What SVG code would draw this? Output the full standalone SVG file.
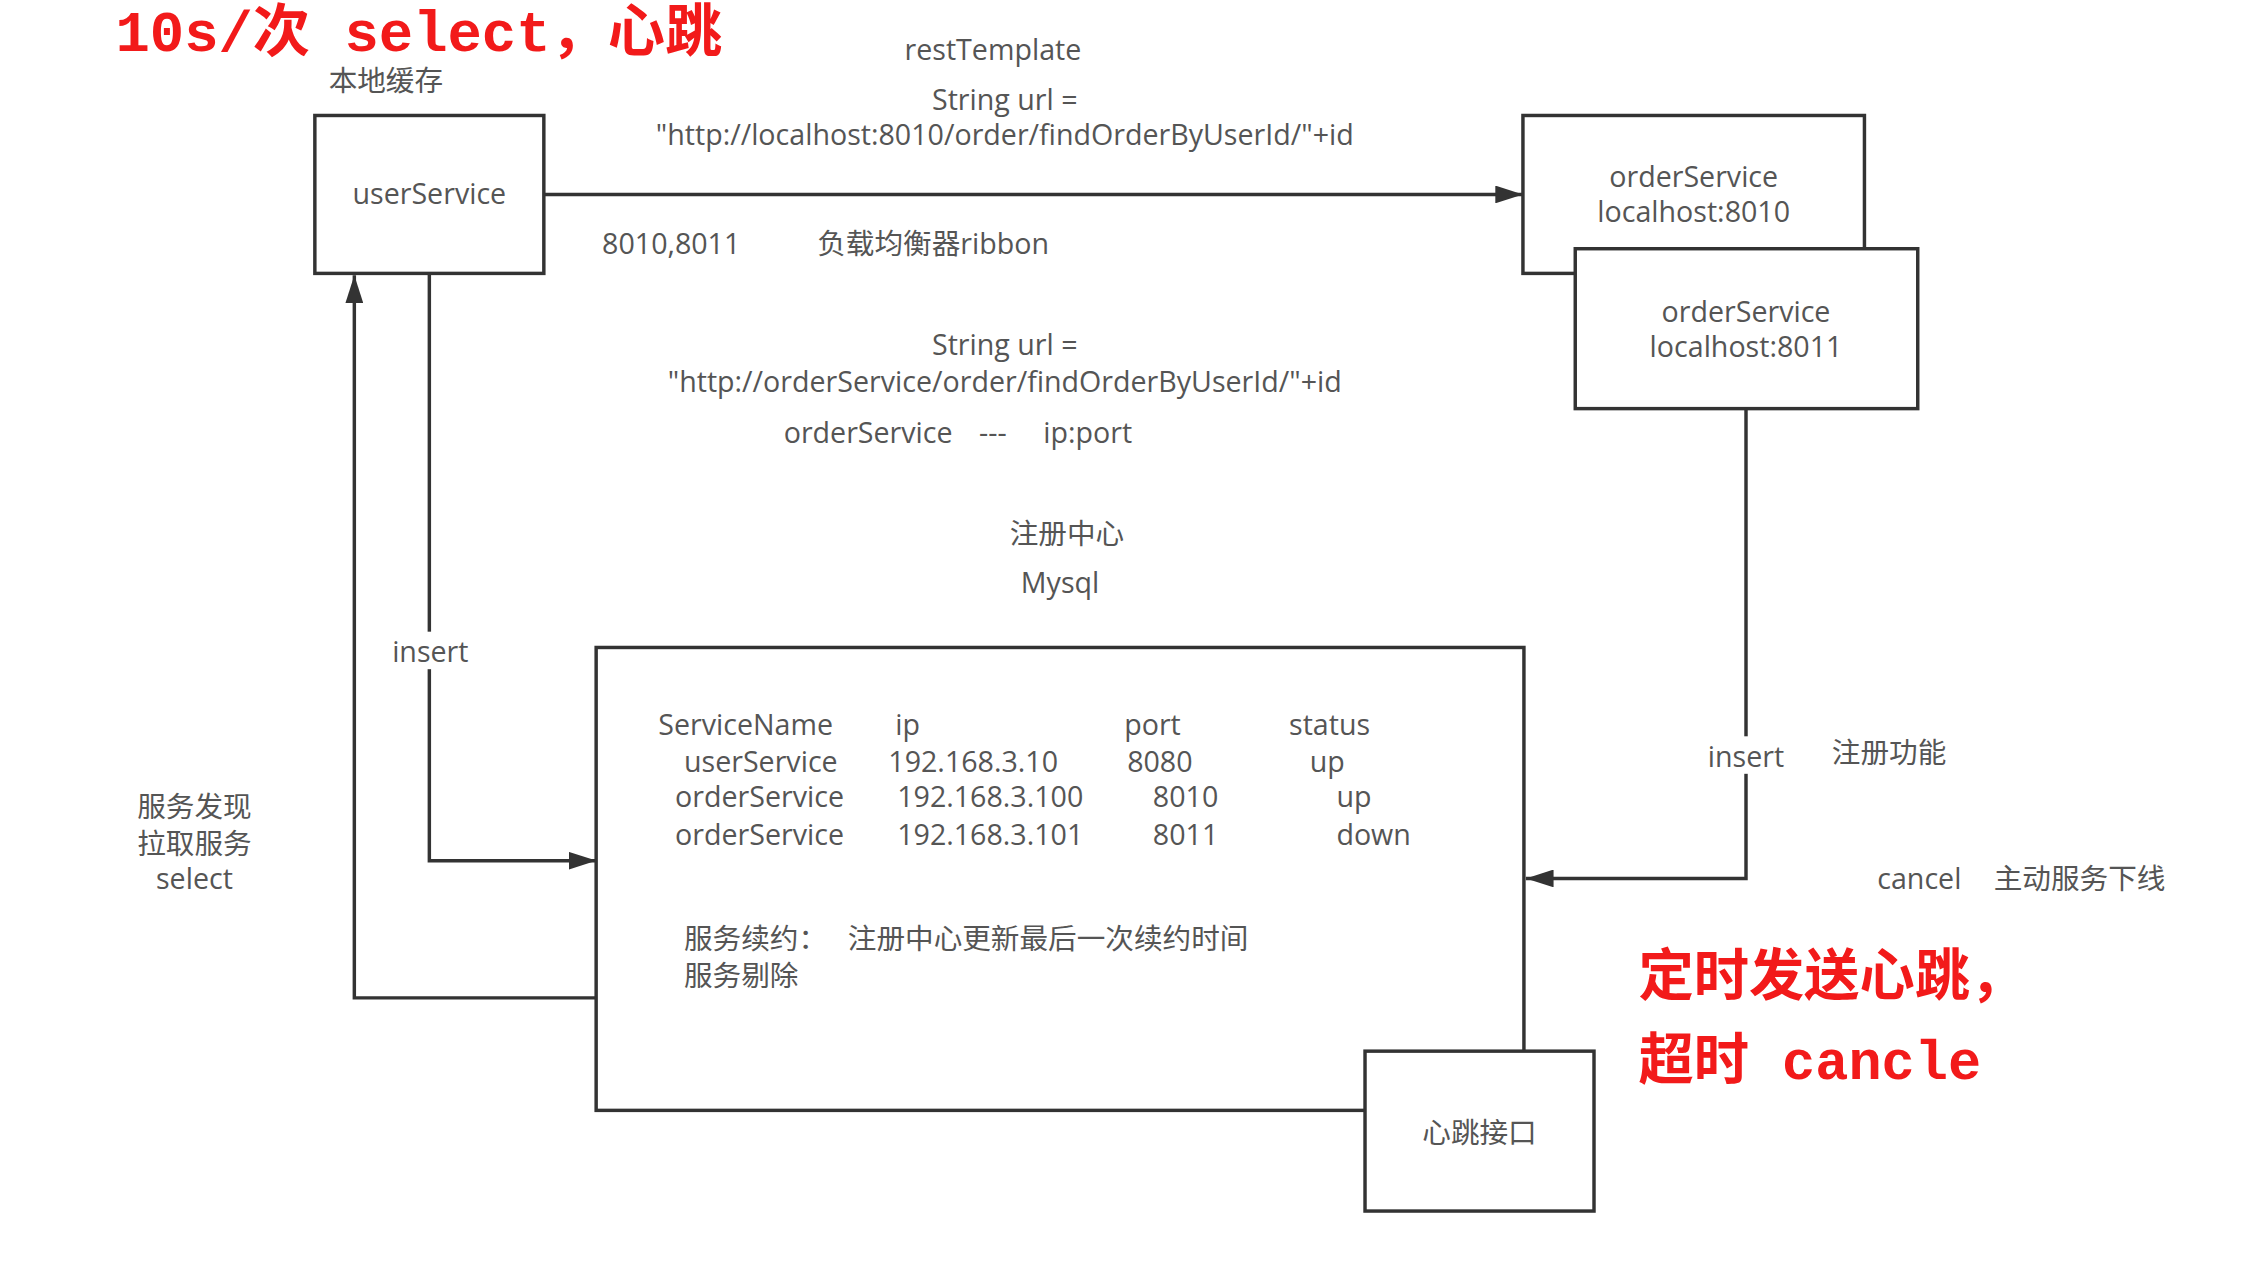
<svg xmlns="http://www.w3.org/2000/svg" width="2258" height="1264" viewBox="0 0 2258 1264">
<defs>
<marker id="arr" viewBox="0 0 10 10" refX="10" refY="5" markerWidth="28" markerHeight="18" markerUnits="userSpaceOnUse" orient="auto" preserveAspectRatio="none"><path d="M0,0 L10,5 L0,10 z" fill="#333"/></marker>
</defs>
<style>
.box{fill:#fff;stroke:#333;stroke-width:3.5}
.t{font-family:"Open Sans","Noto Sans CJK SC",sans-serif;font-size:29px;fill:#555}
.c{text-anchor:middle}
.ln{fill:none;stroke:#333;stroke-width:3.5}
.red{font-family:"Liberation Mono","Noto Sans CJK SC",monospace;font-weight:bold;fill:#f21a1a}
</style>
<rect width="2258" height="1264" fill="#fff"/>
<g transform="scale(0.987)">
<g id="connectors">
<path class="ln" d="M551,197 L1543,197" marker-end="url(#arr)"/>
<path class="ln" d="M435,277 L435,872 L604,872" marker-end="url(#arr)"/>
<path class="ln" d="M604,1011 L359,1011 L359,279" marker-end="url(#arr)"/>
<path class="ln" d="M1769,414 L1769,890 L1546,890" marker-end="url(#arr)"/>
<rect x="390" y="640" width="90" height="38" fill="#fff"/>
<rect x="1724" y="746" width="90" height="38" fill="#fff"/>
<text class="t c" x="436" y="671">insert</text>
<text class="t c" x="1769" y="777">insert</text>
</g>
<g id="userService"><rect class="box" x="319" y="117" width="232" height="160"/><text class="t c" x="435" y="207">userService</text></g>
<g id="orderService8010"><rect class="box" x="1543" y="117" width="346" height="160"/><text class="t c" x="1716" y="189">orderService</text><text class="t c" x="1716" y="225">localhost:8010</text></g>
<g id="orderService8011"><rect class="box" x="1596" y="252" width="347" height="162"/><text class="t c" x="1769" y="326">orderService</text><text class="t c" x="1769" y="362">localhost:8011</text></g>
<g id="registry"><rect class="box" x="604" y="656" width="940" height="469"/>
<text class="t" x="667" y="745">ServiceName</text><text class="t" x="907" y="745">ip</text><text class="t" x="1139" y="745">port</text><text class="t" x="1306" y="745">status</text>
<text class="t" x="693" y="782">userService</text><text class="t" x="900" y="782">192.168.3.10</text><text class="t" x="1142" y="782">8080</text><text class="t" x="1327" y="782">up</text>
<text class="t" x="684" y="818">orderService</text><text class="t" x="909" y="818">192.168.3.100</text><text class="t" x="1168" y="818">8010</text><text class="t" x="1354" y="818">up</text>
<text class="t" x="684" y="856">orderService</text><text class="t" x="909" y="856">192.168.3.101</text><text class="t" x="1168" y="856">8011</text><text class="t" x="1354" y="856">down</text>
<text class="t" x="693" y="961">服务续约：</text><text class="t" x="859" y="961">注册中心更新最后一次续约时间</text>
<text class="t" x="693" y="999">服务剔除</text>
</g>
<g id="heartbeat"><rect class="box" x="1383" y="1065" width="232" height="162"/><text class="t c" x="1499" y="1158">心跳接口</text></g>
<g id="labels">
<text class="red" x="117" y="52" font-size="58">10s/次 select，心跳</text>
<text class="t" x="333" y="92" font-size="26">本地缓存</text>
<text class="t c" x="1006" y="61">restTemplate</text>
<text class="t c" x="1018" y="111">String url =</text>
<text class="t c" x="1018" y="147">"http://localhost:8010/order/findOrderByUserId/"+id</text>
<text class="t" x="610" y="257">8010,8011</text>
<text class="t" x="828" y="257">负载均衡器ribbon</text>
<text class="t c" x="1018" y="360">String url =</text>
<text class="t c" x="1018" y="397">"http://orderService/order/findOrderByUserId/"+id</text>
<text class="t" x="794" y="449">orderService</text><text class="t" x="992" y="449">---</text><text class="t" x="1057" y="449">ip:port</text>
<text class="t c" x="1081" y="551">注册中心</text>
<text class="t c" x="1074" y="601">Mysql</text>
<text class="t" x="1856" y="773">注册功能</text>
<text class="t c" x="197" y="828">服务发现</text>
<text class="t c" x="197" y="865">拉取服务</text>
<text class="t c" x="197" y="901">select</text>
<text class="t" x="1902" y="901">cancel</text><text class="t" x="2020" y="901">主动服务下线</text>
<text class="red" x="1660" y="1008" font-size="56">定时发送心跳，</text>
<text class="red" x="1660" y="1093" font-size="56">超时 cancle</text>
</g>
</g>
</svg>
